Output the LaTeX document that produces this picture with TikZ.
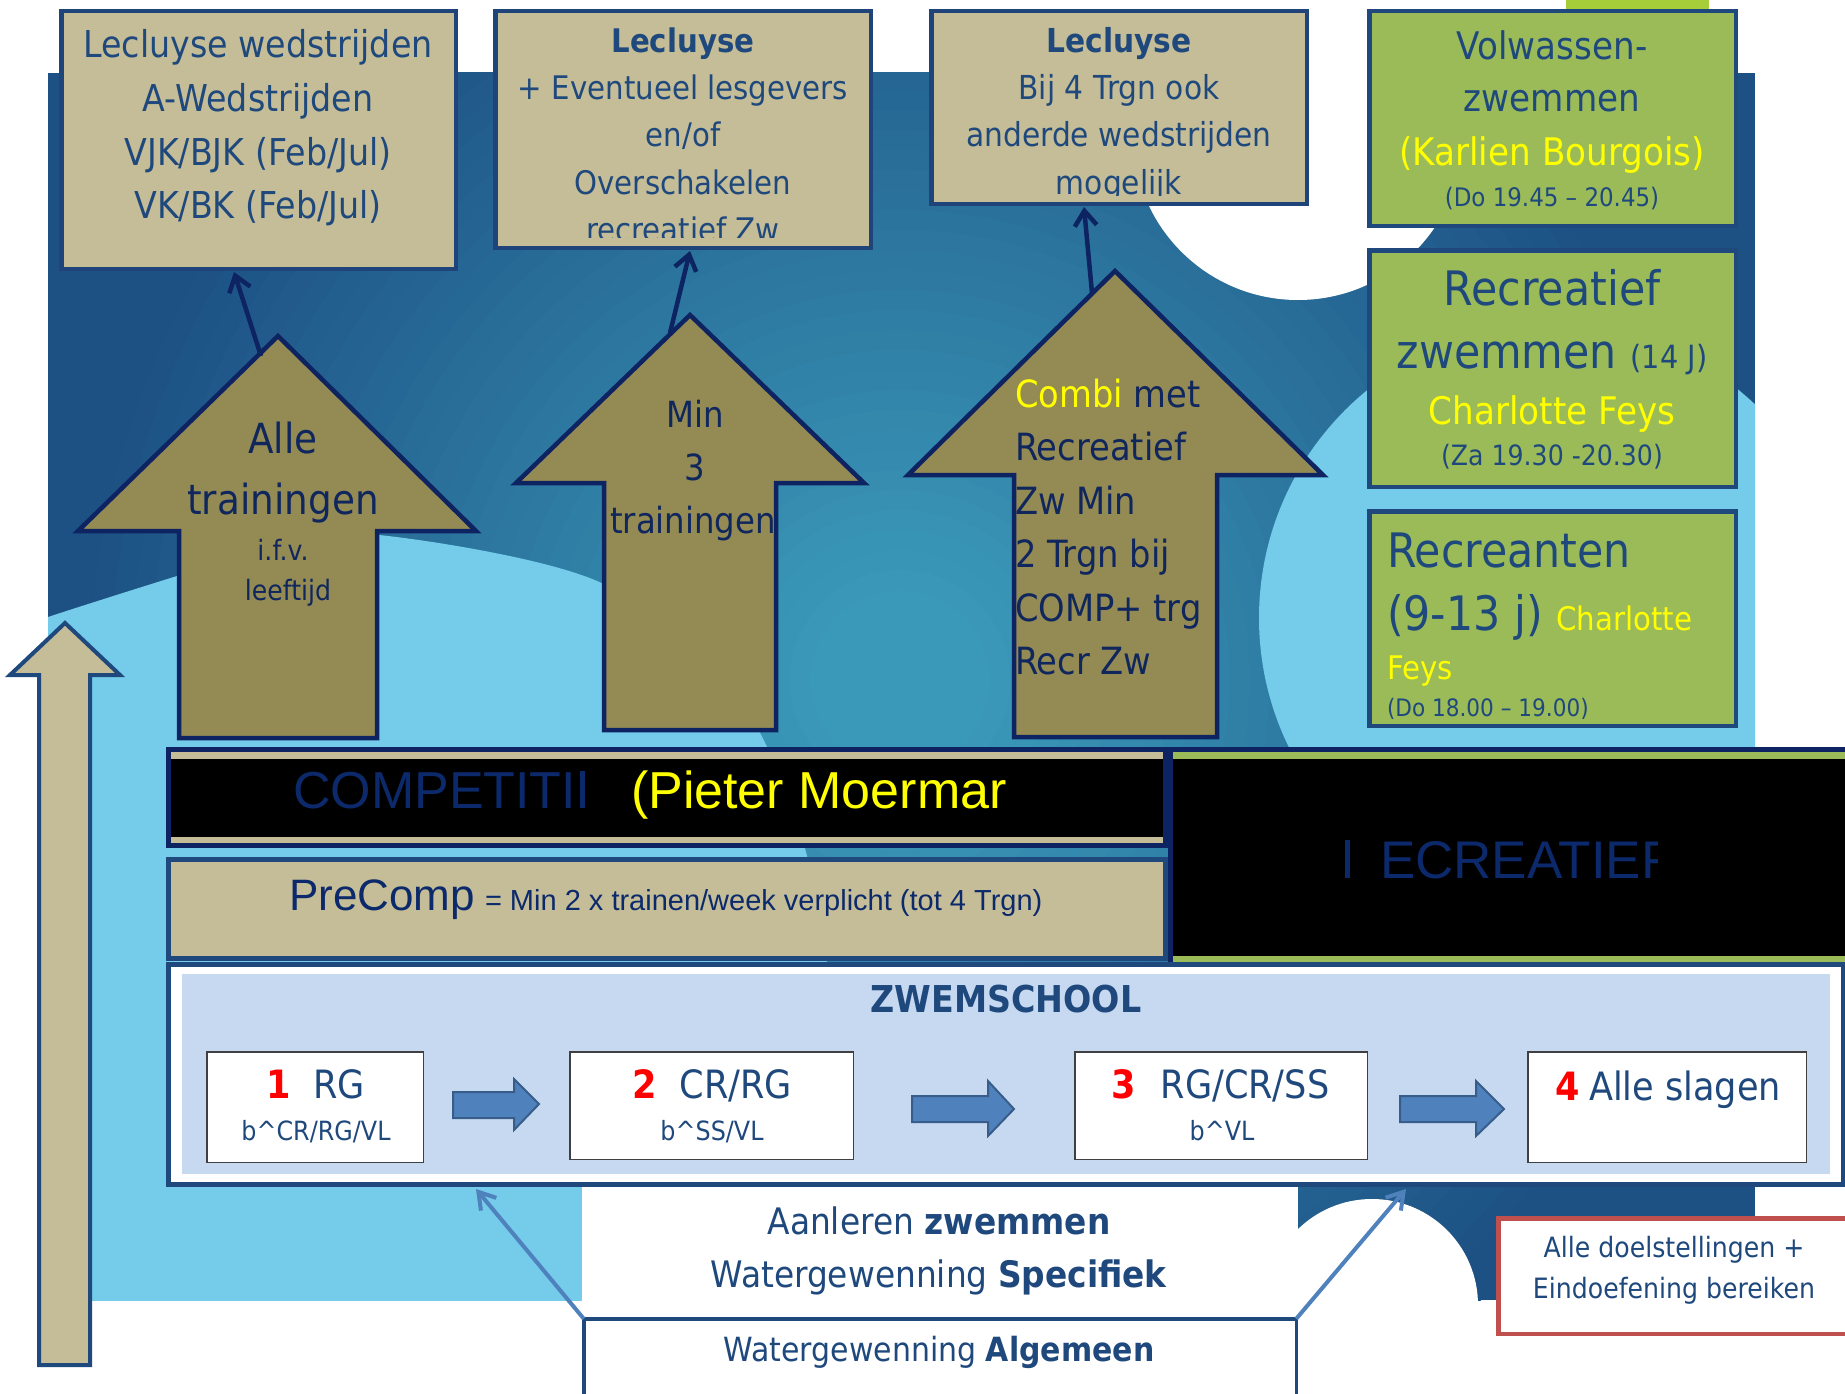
\documentclass[tikz,border=0pt]{standalone}
\usepackage{fontspec}
\usetikzlibrary{arrows.meta}
\newfontfamily\tah[FakeStretch=0.9]{DejaVu Sans}
\newfontfamily\ari{Liberation Sans}
\definecolor{cTan}{HTML}{C4BD97}
\definecolor{cOlive}{HTML}{948A54}
\definecolor{cGreen}{HTML}{9BBB59}
\definecolor{cLime}{HTML}{A6CE39}
\definecolor{cLB}{HTML}{74CBEA}
\definecolor{cZS}{HTML}{C6D9F1}
\definecolor{cBA}{HTML}{4F81BD}
\definecolor{cBAd}{HTML}{385D8A}
\definecolor{cRed}{HTML}{C0504D}
\definecolor{cNavy}{HTML}{1F497D}
\definecolor{cBox}{HTML}{1F4479}
\definecolor{cDark}{HTML}{0E2361}
\definecolor{cTxt}{HTML}{1F497D}
\definecolor{cATxt}{HTML}{10275E}
\definecolor{cCTxt}{HTML}{0C2A6B}
\definecolor{cYel}{HTML}{FFFF00}
\definecolor{bgA}{HTML}{3A98B8}
\definecolor{bgB}{HTML}{1D5184}
\begin{document}
\begin{tikzpicture}[x=1pt,y=-1pt,
 every node/.style={inner sep=0pt,outer sep=0pt},
 ft/.style={font=\tah\fontsize{#1}{#1}\selectfont},
 fa/.style={font=\ari\fontsize{#1}{#1}\selectfont},
 tc/.style={anchor=base,text=cTxt},
 tw/.style={anchor=base west,text=cTxt},
 tanbox/.style={draw=cBox,line width=4.5pt,fill=cTan},
 grnbox/.style={draw=cNavy,line width=4.5pt,fill=cGreen},
 bigarr/.style={draw=cDark,line width=4.5pt,fill=cOlive,line join=miter},
 conn/.style={draw=cDark,line width=4.5pt,-{Straight Barb[length=15pt,width=22pt]}},
 bconn/.style={draw=cBA,line width=4pt,-{Straight Barb[length=16pt,width=20pt]}},
 sbox/.style={draw=black!75,line width=1.5pt,fill=white},
 blk/.style={draw=cBAd,line width=2pt,fill=cBA,line join=miter}]
\useasboundingbox (0,0) rectangle (1845,1394);
\fill[white] (0,0) rectangle (1845,1394);
% background
\begin{scope}
\clip (48,73) rectangle (1755,1300);
\fill[bgB] (48,73) rectangle (1755,1300);
\foreach \r in {850,830,...,90} {
  \pgfmathtruncatemacro\p{min(100,max(0,(\r-100)/7.2))}
  \fill[bgB!\p!bgA] (900,680) circle[radius=\r pt];
}
\fill[cLB] plot[smooth,tension=0.6] coordinates {(20,628) (48,617) (177,576) (280,545) (379,535) (587,577) (700,655) (757,727) (806,852) (830,1000) (840,1320)} -- (20,1320) -- cycle;
\fill[cLB] (1553,618) circle[radius=294pt];
\fill[white] (1298,135) circle[radius=165pt];
\fill[white] (1372,1305) circle[radius=106pt];
\end{scope}
\fill[white] (582,1187) rectangle (1298,1317);
% left tall arrow
\filldraw[draw=cNavy,line width=4pt,fill=cTan,line join=miter] (65,623) -- (120,675) -- (90,675) -- (90,1365) -- (39,1365) -- (39,675) -- (10,675) -- cycle;
% top boxes
\node[tanbox,minimum width=394.5,minimum height=257.5] (b1) at (258.5,140) {};
\node[tc,ft=37] (t11) at (258,58) {Lecluyse wedstrijden};
\node[tc,ft=37] (t12) at (258,111.5) {A-Wedstrijden};
\node[tc,ft=37] (t13) at (258,165) {VJK/BJK (Feb/Jul)};
\node[tc,ft=37] (t14) at (258,218) {VK/BK (Feb/Jul)};
\node[tanbox,minimum width=375.5,minimum height=236.5] (b2) at (683,129.5) {};
\node[tc,ft=32.5] (t21) at (683,53) {\bfseries Lecluyse};
\node[tc,ft=32.5] (t22) at (683,100) {+ Eventueel lesgevers};
\node[tc,ft=32.5] (t23) at (683,147) {en/of};
\node[tc,ft=32.5] (t24) at (683,194) {Overschakelen};
\begin{scope}
\clip (496,200) rectangle (870,237);
\node[tc,ft=32.5] (t25) at (683,241) {recreatief Zw};
\end{scope}
\node[tanbox,minimum width=375.5,minimum height=192.5] (b3) at (1119,107.5) {};
\node[tc,ft=33] (t31) at (1119,53) {\bfseries Lecluyse};
\node[tc,ft=33] (t32) at (1119,100) {Bij 4 Trgn ook};
\node[tc,ft=33] (t33) at (1119,147) {anderde wedstrijden};
\begin{scope}
\clip (932,155) rectangle (1306,195);
\node[tc,ft=33] (t34) at (1119,194) {mogelijk};
\end{scope}
% green boxes
\fill[cLime] (1566,0) rectangle (1709,9);
\node[grnbox,minimum width=366.5,minimum height=214.5] (g1) at (1552.5,118.5) {};
\node[tc,ft=38] (tg11) at (1552,60) {Volwassen-};
\node[tc,ft=38] (tg12) at (1552,111.5) {zwemmen};
\node[tc,ft=38,text=cYel] (tg13) at (1552,165) {(Karlien Bourgois)};
\node[tc,ft=25.5] (tg14) at (1552,206) {(Do 19.45 – 20.45)};
\node[grnbox,minimum width=366.5,minimum height=236.5] (g2) at (1552.5,368.5) {};
\node[tc,ft=47.5] (tg21) at (1552,305) {Recreatief};
\node[tc,ft=47.5] (tg22) at (1552,368) {zwemmen {\fontsize{32}{32}\selectfont (14 J)}};
\node[tc,ft=38,text=cYel] (tg23) at (1552,424) {Charlotte Feys};
\node[tc,ft=28] (tg24) at (1552,465) {(Za 19.30 -20.30)};
\node[grnbox,minimum width=366.5,minimum height=214.5] (g3) at (1552.5,618.5) {};
\node[tw,ft=47.5] (tg31) at (1387,567) {Recreanten};
\node[tw,ft=47.5] (tg32) at (1387,630) {(9-13 j) {\fontsize{32.5}{32.5}\selectfont\color{cYel}Charlotte}};
\node[tw,ft=32.5,text=cYel] (tg33) at (1387,679) {Feys};
\begin{scope}
\clip (1370,690) rectangle (1735,718);
\node[tw,ft=24] (tg34) at (1387,716) {(Do 18.00 – 19.00)};
\end{scope}
% big arrows
\filldraw[bigarr] (278,336) -- (476,531) -- (377,531) -- (377,738) -- (179,738) -- (179,531) -- (78,531) -- cycle;
\node[tc,ft=41.5,text=cATxt] (ta11) at (283,453) {Alle};
\node[tc,ft=41.5,text=cATxt] (ta12) at (283,514) {trainingen};
\node[tc,ft=28,text=cATxt] (ta13) at (283,560) {i.f.v.};
\node[tc,ft=28,text=cATxt] (ta14) at (288,600) {leeftijd};
\fill[cOlive] (690,315) -- (864,483) -- (776,483) -- (776,730) -- (604,730) -- (604,483) -- (516,483) -- cycle;
\node[tc,ft=36,text=cATxt] (ta21) at (695,427) {Min};
\node[tc,ft=36,text=cATxt] (ta22) at (695,480) {3};
\begin{scope}
\clip (604,483) rectangle (776,730);
\node[tw,ft=36,text=cATxt] (ta23) at (610,533) {trainingen};
\end{scope}
\draw[bigarr,fill=none] (690,315) -- (864,483) -- (776,483) -- (776,730) -- (604,730) -- (604,483) -- (516,483) -- cycle;
\filldraw[bigarr] (1115,271) -- (1323,475) -- (1217,475) -- (1217,737) -- (1014,737) -- (1014,475) -- (908,475) -- cycle;
\node[tw,ft=37.5,text=cATxt] (ta31) at (1015,407) {{\color{cYel}Combi} met};
\node[tw,ft=37.5,text=cATxt] (ta32) at (1015,460.5) {Recreatief};
\node[tw,ft=37.5,text=cATxt] (ta33) at (1015,514) {Zw Min};
\node[tw,ft=37.5,text=cATxt] (ta34) at (1015,567.5) {2 Trgn bij};
\node[tw,ft=37.5,text=cATxt] (ta35) at (1015,621) {COMP+ trg};
\node[tw,ft=37.5,text=cATxt] (ta36) at (1015,674.5) {Recr Zw};
% connectors to top boxes
\coordinate (c1s) at (261,356); \coordinate (c1e) at (234,272);
\coordinate (c2s) at (670,333); \coordinate (c2e) at (690,251);
\coordinate (c3s) at (1092,293); \coordinate (c3e) at (1084,207);
\draw[conn] (c1s) -- (c1e);
\draw[conn] (c2s) -- (c2e);
\draw[conn] (c3s) -- (c3e);
% competition bar
\node[draw=cDark,line width=5pt,fill=cTan,minimum width=997,minimum height=96] (comp) at (667,797.5) {};
\fill[black] (171,759) rectangle (1163,837);
\node[tw,fa=52,text=cCTxt] (tc1) at (293,808) {COMPETITI};
\fill[cCTxt] (580,771) rectangle (585,808);
\node[tw,fa=52,text=cYel] (tc2) at (631,808) {(Pieter Moermar};
% precomp
\node[draw=cNavy,line width=5pt,fill=cTan,minimum width=997,minimum height=99] (pre) at (667,909) {};
\node[tw,fa=44,text=cCTxt] (tp1) at (289,910) {PreComp};
\node[tw,fa=29,text=cCTxt] (tp2) at (485,910) {= Min 2 x trainen/week verplicht (tot 4 Trgn)};
% recreatief bar
\node[draw=cDark,line width=5pt,fill=cGreen,minimum width=697,minimum height=216] (recr) at (1519,857.5) {};
\fill[black] (1173,759) rectangle (1870,956);
\fill[cCTxt] (1345,840) rectangle (1350,878);
\begin{scope}
\clip (1360,820) rectangle (1657,900);
\node[tw,fa=53,text=cCTxt] (tr1) at (1380,878) {ECREATIEF};
\end{scope}
% zwemschool
\node[draw=cNavy,line width=5pt,fill=white,minimum width=1675,minimum height=220] (zw) at (1006,1074.5) {};
\fill[cZS] (182,974) rectangle (1830,1174);
\node[tc,ft=37] (tz) at (1006,1012) {\bfseries ZWEMSCHOOL};
\node[sbox,minimum width=216.5,minimum height=110.5] (s1) at (315,1107) {};
\node[tc,ft=39,text=red] (n1) at (279,1098.5) {\bfseries 1};
\node[tc,ft=39] (s1a) at (339,1098.5) {RG};
\node[tc,ft=26.5] (s1b) at (316,1140) {b\textasciicircum{}CR/RG/VL};
\node[sbox,minimum width=283.5,minimum height=107.5] (s2) at (711.5,1105.5) {};
\node[tc,ft=39,text=red] (n2) at (645,1098.5) {\bfseries 2};
\node[tc,ft=39] (s2a) at (736,1098.5) {CR/RG};
\node[tc,ft=26.5] (s2b) at (712,1140) {b\textasciicircum{}SS/VL};
\node[sbox,minimum width=292.5,minimum height=107.5] (s3) at (1221,1105.5) {};
\node[tc,ft=39,text=red] (n3) at (1124,1098.5) {\bfseries 3};
\node[tc,ft=39] (s3a) at (1245,1098.5) {RG/CR/SS};
\node[tc,ft=26.5] (s3b) at (1222,1140) {b\textasciicircum{}VL};
\node[sbox,minimum width=278.5,minimum height=110.5] (s4) at (1667,1107) {};
\node[tc,ft=39,text=red] (n4) at (1568,1100) {\bfseries 4};
\node[tc,ft=39] (s4a) at (1685,1100) {Alle slagen};
\filldraw[blk] (453,1092) -- (514,1092) -- (514,1079) -- (539,1104) -- (514,1130) -- (514,1118) -- (453,1118) -- cycle;
\filldraw[blk] (912,1096) -- (988,1096) -- (988,1081) -- (1014,1109) -- (988,1136) -- (988,1122) -- (912,1122) -- cycle;
\filldraw[blk] (1400,1096) -- (1476,1096) -- (1476,1081) -- (1504,1109) -- (1476,1136) -- (1476,1122) -- (1400,1122) -- cycle;
% bottom
\node[draw=cNavy,line width=3.5pt,fill=white,minimum width=712.5,minimum height=99.5] (lb) at (940,1368.5) {};
\node[tc,ft=36.5] (tb1) at (939,1234) {Aanleren \textbf{zwemmen}};
\node[tc,ft=36.5] (tb2) at (939,1287) {Watergewenning \textbf{Specifiek}};
\node[tc,ft=33.3] (tb3) at (939,1361) {Watergewenning \textbf{Algemeen}};
\coordinate (zwL) at (476,1189); \coordinate (zwR) at (1406,1189);
\draw[bconn] (lb.north west) -- (zwL);
\draw[bconn] (lb.north east) -- (zwR);
% red box
\node[draw=cRed,line width=4.5pt,fill=white,minimum width=369.5,minimum height=115.5] (rb) at (1683,1276) {};
\node[tc,ft=28] (trb1) at (1674,1257) {Alle doelstellingen +};
\node[tc,ft=28] (trb2) at (1674,1298) {Eindoefening bereiken};
\end{tikzpicture}
\end{document}
